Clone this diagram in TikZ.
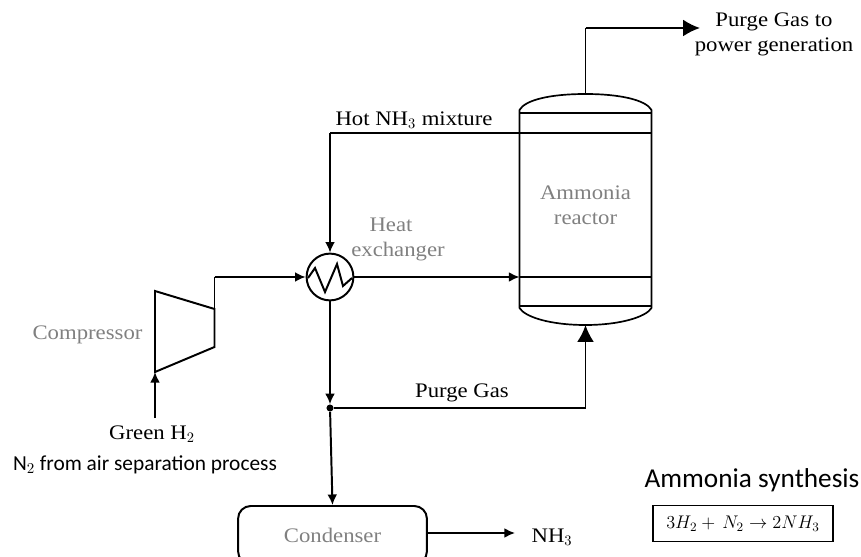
\documentclass[tikz,border=0pt]{standalone}
\usepackage{fix-cm}
\usepackage{fontspec}
\setmainfont[FakeStretch=1.1]{Liberation Serif}
\newfontfamily\calibrifont{Carlito}
\usetikzlibrary{arrows.meta}
\tikzset{
    flow/.style={line width=1.4pt,-{Latex[length=7.5pt,width=7pt]}},
    flowbig/.style={line width=1.4pt,-{Latex[length=12pt,width=12pt]}},
    pipe/.style={line width=1.4pt},
    txt/.style={font=\fontsize{14.7}{17.8}\selectfont,align=center,inner sep=0pt},
    graytxt/.style={txt,text=black!50},
    unitbox/.style={draw,line width=1.4pt}
}
\begin{document}
\begin{tikzpicture}[x=0.025cm,y=-0.025cm]
    \useasboundingbox (0,0) rectangle (861,557);

    %punti
    \coordinate (topNW) at (519.5,113);
    \coordinate (topNE) at (651.5,113);
    \coordinate (botSW) at (519.5,306);
    \coordinate (botSE) at (651.5,306);
    \coordinate (domeTop) at (585.5,94);
    \coordinate (domeBot) at (585.5,325);
    \coordinate (hotIn) at (519.5,133);
    \coordinate (hotEnd) at (651.5,133);
    \coordinate (feedIn) at (519.5,277);
    \coordinate (feedEnd) at (651.5,277);
    \coordinate (purgeCorner) at (585.5,408);
    \coordinate (outCorner) at (585.5,28);
    \coordinate (outEnd) at (700,28);
    \coordinate (hotCorner) at (330,133);
    \coordinate (compA) at (155,291);
    \coordinate (compB) at (214.5,309);
    \coordinate (compC) at (214.5,347);
    \coordinate (compD) at (155,372);
    \coordinate (compOut) at (214.5,277);
    \coordinate (compIn) at (155,418);
    \coordinate (nhOut) at (515,533);

    %reattore
    \draw[line width=1.2pt] (topNW)--++(0,-3) .. controls (525,100) and (550,94) .. (domeTop)
        .. controls (620,94) and (646,100) .. (651.5,110)--(topNE)--(botSE)--++(0,2)
        .. controls (646,317) and (620,325) .. (domeBot)
        .. controls (550,325) and (525,317) .. (519.5,308)--(botSW)--cycle;
    \draw[line width=1.2pt] (topNW)--(topNE);
    \draw[line width=1.2pt] (botSW)--(botSE);
    \draw[pipe,line width=1.7pt] (hotIn)--(hotEnd);
    \draw[pipe,line width=1.7pt] (feedIn)--(feedEnd);

    %scambiatore
    \node (hx) at (330,277)[circle,draw,line width=1.4pt,minimum size=1.17cm,inner sep=0pt]{};
    \draw[line width=1.4pt] (308,278)--(315,268)--(325,292)--(337,264)--(343,286)--(352,278);

    %compressore
    \draw[pipe] (compA)--(compB)--(compC)--(compD)--cycle;

    %condensatore
    \node (condenser) at (332.5,535)[unitbox,rounded corners=9pt,minimum width=4.72cm,minimum height=1.45cm,graytxt]{Condenser};

    %dot
    \node (junction) at (330,408)[circle,fill,inner sep=0pt,minimum size=5pt]{};

    %correnti
    \draw[pipe] (domeTop)--(outCorner);
    \draw[flowbig] (outCorner)--(outEnd);
    \draw[pipe] (hotIn)--(hotCorner);
    \draw[flow] (hotCorner)--(hx.north);
    \draw[pipe] (compB)--(compOut);
    \draw[flow] (compOut)--(hx.west);
    \draw[flow] (hx.east)--(feedIn);
    \draw[flow] (hx.south)--(junction.north);
    \draw[pipe] (junction)--(purgeCorner);
    \draw[flowbig] (purgeCorner)--(domeBot);
    \draw[flow] (compIn)--(compD);
    \draw[flow] (junction)--(condenser.north);
    \draw[flow] (condenser.east|-nhOut)--(nhOut);

    %testi
    \node (outLabel) at (774,34)[txt]{Purge Gas to\\power generation};
    \node (hotLabel) at (414,120)[txt]{Hot NH$_3$ mixture};
    \node (reactorLabel) at (585.5,205)[graytxt]{Ammonia\\reactor};
    \node (hxLabel) at (398,239)[graytxt]{\hspace*{-10pt}Heat\\exchanger};
    \node (compLabel) at (87.5,335)[graytxt]{Compressor};
    \node (purgeLabel) at (462,393)[txt]{Purge Gas};
    \node (h2Label) at (152,434)[txt]{Green H$_2$};
    \node (n2Label) at (145,465)[font=\calibrifont\fontsize{15.2}{18}\selectfont,inner sep=0pt]{N$_2$ from air separation process};
    \node (nhLabel) at (552,537)[txt]{NH$_3$};
    \node (synLabel) at (752,480)[font=\calibrifont\fontsize{19.4}{22}\selectfont,inner sep=0pt]{Ammonia synthesis};
    \node (eqBox) at (743,523.5)[draw,line width=0.8pt,minimum width=4.5cm,minimum height=0.92cm,inner sep=0pt,font=\fontsize{13}{16}\selectfont]{$3H_2+\,N_2\rightarrow 2NH_3$};
\end{tikzpicture}
\end{document}
